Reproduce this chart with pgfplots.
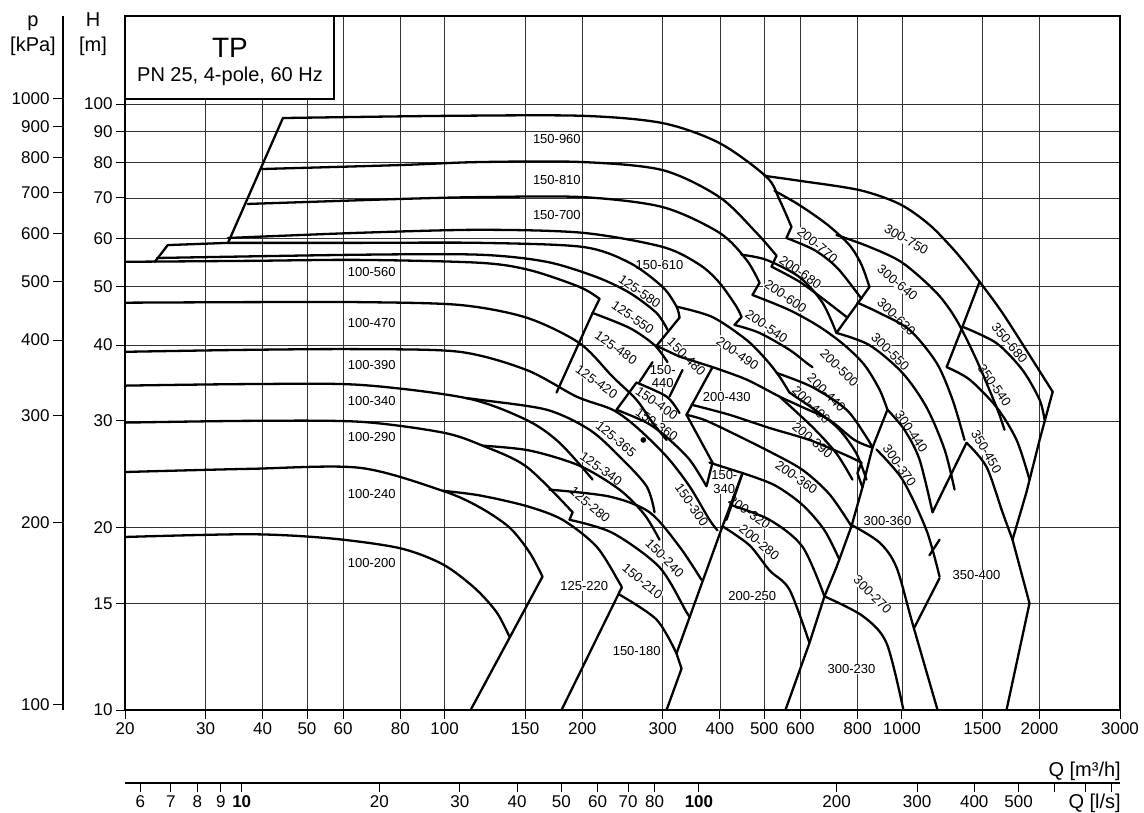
\documentclass[border=0pt]{standalone}
\usepackage{fontspec}
\setmainfont{Liberation Sans}
\usepackage{pgfplots}
\pgfplotsset{compat=1.18}
\begin{document}
\begin{tikzpicture}[x=1pt,y=1pt]
\pgfplotsset{
  curve/.style={black, line width=2.3pt, line join=round, line cap=round, mark=none, smooth, tension=0.5},
  edge/.style={black, line width=2.3pt, line join=round, line cap=round, mark=none},
}
\tikzset{lbl/.style={font=\fontsize{13}{13.5}\selectfont, fill=white, inner sep=0.5pt, align=center}}
\begin{axis}[
  at={(0,0)}, anchor=south west,
  scale only axis, width=995pt, height=694pt,
  xmode=log, ymode=log,
  xmin=20, xmax=3000, ymin=10, ymax=139.7,
  xtick={20,30,40,50,60,80,100,150,200,300,400,500,600,800,1000,1500,2000,3000},
  xticklabels={20,30,40,50,60,80,100,150,200,300,400,500,600,800,1000,1500,2000,3000},
  ytick={10,15,20,30,40,50,60,70,80,90,100},
  yticklabels={10,15,20,30,40,50,60,70,80,90,100},
  minor xtick={}, minor ytick={},
  grid=major,
  major grid style={black!80, line width=0.7pt},
  tick align=outside, tick pos=left,
  major tick length=9pt,
  tick style={black, line width=0.9pt},
  axis line style={black, line width=1.4pt},
  tick label style={font=\fontsize{17}{17}\selectfont},
  /pgf/number format/assume math mode=true,
]
% ---- labels (white background, under curves)
\node[lbl] at (axis cs:176,87.4) {150-960};
\node[lbl] at (axis cs:176,74.9) {150-810};
\node[lbl] at (axis cs:176,65.7) {150-700};
\node[lbl] at (axis cs:295,54.3) {150-610};
\node[lbl] at (axis cs:69.3,52.8) {100-560};
\node[lbl] at (axis cs:69.3,43.5) {100-470};
\node[lbl] at (axis cs:69.3,37.1) {100-390};
\node[lbl] at (axis cs:69.3,32.4) {100-340};
\node[lbl] at (axis cs:69.3,28.2) {100-290};
\node[lbl] at (axis cs:69.3,22.7) {100-240};
\node[lbl] at (axis cs:69.3,17.5) {100-200};
\node[lbl,rotate=-35] at (axis cs:267,49.1) {125-580};
\node[lbl,rotate=-35] at (axis cs:258,44.4) {125-550};
\node[lbl,rotate=-35] at (axis cs:237,39.6) {125-480};
\node[lbl,rotate=-35] at (axis cs:215,34.8) {125-420};
\node[lbl,rotate=-45] at (axis cs:338,38.3) {150-480};
\node[lbl] at (axis cs:300,35.5) {150-\\440};
\node[lbl,rotate=-35] at (axis cs:437,38.8) {200-490};
\node[lbl] at (axis cs:414,32.9) {200-430};
\node[lbl,rotate=-35] at (axis cs:291,32.1) {150-400};
\node[lbl,rotate=-35] at (axis cs:291,29.6) {150-360};
\node[lbl,rotate=-40] at (axis cs:237,28.0) {125-365};
\node[lbl,rotate=-35] at (axis cs:220,25.0) {125-340};
\node[lbl,rotate=-40] at (axis cs:208,21.8) {125-280};
\node[lbl,rotate=-55] at (axis cs:347,21.8) {150-300};
\node[lbl] at (axis cs:409,23.8) {150-\\340};
\node[lbl,rotate=-45] at (axis cs:303,17.8) {150-240};
\node[lbl,rotate=-40] at (axis cs:271,16.3) {150-210};
\node[lbl] at (axis cs:202,16.0) {125-220};
\node[lbl] at (axis cs:263,12.5) {150-180};
\node[lbl] at (axis cs:471,15.4) {200-250};
\node[lbl,rotate=-40] at (axis cs:488,18.9) {200-280};
\node[lbl,rotate=-35] at (axis cs:464,21.2) {200-320};
\node[lbl,rotate=-35] at (axis cs:588,24.2) {200-360};
\node[lbl,rotate=-40] at (axis cs:638,27.9) {200-390};
\node[lbl,rotate=-45] at (axis cs:634,31.9) {200-400};
\node[lbl,rotate=-45] at (axis cs:684,33.4) {200-440};
\node[lbl,rotate=-45] at (axis cs:730,36.7) {200-500};
\node[lbl,rotate=-35] at (axis cs:506,42.9) {200-540};
\node[lbl,rotate=-35] at (axis cs:557,48.1) {200-600};
\node[lbl,rotate=-35] at (axis cs:600,52.8) {200-680};
\node[lbl,rotate=-40] at (axis cs:654,58.5) {200-770};
\node[lbl,rotate=-30] at (axis cs:1023,59.7) {300-750};
\node[lbl,rotate=-40] at (axis cs:978,50.7) {300-640};
\node[lbl,rotate=-45] at (axis cs:973,44.5) {300-630};
\node[lbl,rotate=-45] at (axis cs:944,39.0) {300-550};
\node[lbl,rotate=-56] at (axis cs:1049,28.8) {300-440};
\node[lbl,rotate=-55] at (axis cs:988,25.3) {300-370};
\node[lbl] at (axis cs:930,20.5) {300-360};
\node[lbl,rotate=-45] at (axis cs:863,15.5) {300-270};
\node[lbl] at (axis cs:776,11.7) {300-230};
\node[lbl,rotate=-50] at (axis cs:1720,40.3) {350-680};
\node[lbl,rotate=-55] at (axis cs:1595,34.3) {350-540};
\node[lbl,rotate=-60] at (axis cs:1531,26.7) {350-450};
\node[lbl] at (axis cs:1457,16.7) {350-400};
% ---- family 100
\addplot[curve] coordinates {(20,54.9)(37.5,55.1)(65.2,55.3)(119.3,54.7)(153.4,53.2)(197.3,49.9)(218.2,47.7)};
\addplot[curve] coordinates {(20,47.0)(37.5,47.1)(65.2,47.1)(107.8,46.6)(151.1,44.4)(197.3,40.3)(232.9,35.5)(262.8,32.5)(284.9,29.8)(305.8,27.9)};
\addplot[curve] coordinates {(20,39.0)(37.5,39.3)(65.2,39.4)(107.8,39.0)(151.1,36.4)(194.3,32.9)(232.9,31.3)(262.8,29.3)(305.8,26.2)(343.2,23.4)(379.6,20.6)(395.2,19.8)};
\addplot[curve] coordinates {(20,34.3)(37.5,34.5)(65.2,34.4)(111.7,32.7)(151.1,30.1)(178.4,27.6)(210.7,24.0)};
\addplot[curve] coordinates {(20,29.8)(37.5,30.0)(65.2,29.9)(99.0,28.7)(121.1,27.3)(151.1,25.2)(190.5,21.2)};
\addplot[edge] coordinates {(190.5,21.2)(187.6,20.6)};
\addplot[curve] coordinates {(20,24.7)(37.5,25.0)(65.2,25.1)(99.0,23.0)(119.3,21.6)(138.7,20.0)(153.4,18.2)(163.7,16.6)};
\addplot[edge] coordinates {(163.7,16.6)(114.0,10)};
\addplot[curve] coordinates {(20,19.3)(37.5,19.5)(56.1,19.2)(79.7,18.5)(99.0,17.4)(116.3,15.9)(129.9,14.5)(138.7,13.2)};
% ---- family 125 lower / 150 lower
\addplot[curve] coordinates {(111.7,32.7)(119.3,32.5)(167.1,31.3)(207.5,29.0)(241.3,26.2)(276.5,23.4)(287.8,21.2)};
\addplot[curve] coordinates {(121.1,27.3)(153.4,26.8)(197.3,25.3)(241.3,23.1)(273.7,21.0)(295.1,19.1)};
\addplot[curve] coordinates {(99.0,23.0)(119.3,22.6)(151.1,21.7)(181.1,20.6)(215.0,18.6)(241.3,16.2)(243.7,15.9)};
\addplot[edge] coordinates {(243.7,15.9)(180.2,10)};
\addplot[curve] coordinates {(187.6,20.6)(232.9,19.6)(295.1,17.2)(338.1,14.5)(343.2,14.3)};
\addplot[curve] coordinates {(241.3,15.5)(290.7,14.1)(321.5,12.4)};
\addplot[curve] coordinates {(169.6,23.1)(229.5,22.5)(280.6,21.2)(326.4,18.6)(364.6,16.4)};
\addplot[edge] coordinates {(448.3,24.6)(405.3,20.1)(321.5,12.4)(329.7,11.7)(305.8,10)};
% ---- family 125 upper / 150 upper
\addplot[edge] coordinates {(218.2,47.7)(210.7,45.2)(175.7,33.4)};
\addplot[curve] coordinates {(33.6,60.1)(65.2,61.3)(119.3,62.0)(200.3,61.3)(299.7,58.1)(361.0,54.3)(399.2,50.7)(434.8,46.3)(446.0,44.5)};
\addplot[edge] coordinates {(446.0,44.5)(430.5,43.2)};
\addplot[edge] coordinates {(23.25,54.9)(24.8,58.5)(33.6,59.0)};
\addplot[curve] coordinates {(33.6,59.0)(65.2,59.0)(119.3,59.0)(200.3,58.1)(253.8,54.7)(299.7,49.9)(321.5,46.3)(326.4,44.4)};
\addplot[edge] coordinates {(326.4,44.4)(290.7,39.9)};
\addplot[curve] coordinates {(23.5,55.7)(65.2,56.4)(119.3,56.4)(167.1,54.9)(215.0,51.8)(253.8,48.8)(290.7,45.2)(307.3,42.4)};
\addplot[edge] coordinates {(33.6,59.0)(44.3,94.8)};
\addplot[curve] coordinates {(44.3,94.8)(102.5,95.6)(200.3,95.6)(299.7,93.0)(399.2,86.2)(505.8,75.8)(540.0,69.5)(573.5,62.7)};
\addplot[edge] coordinates {(573.5,62.7)(559.3,60.1)};
\addplot[curve] coordinates {(39.6,78.1)(79.7,79.3)(119.3,80.2)(200.3,80.2)(299.7,77.8)(399.2,70.2)(480.9,61.3)(531.9,56.2)};
\addplot[edge] coordinates {(531.9,56.2)(518.7,53.9)};
\addplot[curve] coordinates {(37.1,68.4)(79.7,69.7)(119.3,70.2)(200.3,70.2)(299.7,67.6)(399.2,61.3)(457.4,55.3)(488.3,50.7)};
\addplot[edge] coordinates {(488.3,50.7)(471.3,48.4)};
\addplot[curve] coordinates {(210.7,45.2)(253.8,42.7)(287.8,40.0)(307.3,37.5)};
\addplot[edge] coordinates {(290.7,39.9)(326.4,38.3)(385.4,36.8)(338.1,30.7)(385.4,25.6)(373.9,23.4)};
\addplot[edge] coordinates {(284.9,37.5)(266.9,34.8)};
\addplot[edge] coordinates {(331.4,36.4)(310.4,32.9)};
\addplot[edge] coordinates {(237.7,31.3)(262.8,34.7)};
\addplot[curve] coordinates {(262.8,34.7)(305.8,32.9)(326.4,30.9)};
\addplot[curve] coordinates {(237.7,31.3)(276.5,29.8)(305.8,28.2)(343.2,25.9)(373.9,23.4)};
\addplot[edge] coordinates {(379.6,25.6)(448.3,24.6)(413.5,20.6)};
\addplot[only marks, mark=*, mark size=2.6pt, black] coordinates {(272,27.9)};
% ---- family 200
\addplot[curve] coordinates {(526.6,71.9)(597.2,68.1)(687.6,63.2)(768.1,58.5)(816.0,54.3)(849.5,49.9)};
\addplot[edge] coordinates {(849.5,49.9)(719.4,41.9)};
\addplot[curve] coordinates {(446.0,56.4)(505.8,55.3)(597.2,51.8)(670.5,47.0)(719.4,41.9)};
\addplot[curve] coordinates {(559.3,60.1)(644.0,57.4)(723.1,53.6)(816.0,47.7)};
\addplot[curve] coordinates {(518.7,53.9)(597.2,50.9)(677.3,47.5)(760.4,44.4)};
\addplot[curve] coordinates {(430.5,43.2)(488.3,41.9)(567.8,39.3)(618.6,37.4)(637.6,36.8)};
\addplot[curve] coordinates {(471.3,48.4)(567.8,45.7)(660.4,42.9)(749.0,40.0)(828.4,37.1)(893.4,33.8)(930.1,31.3)};
\addplot[edge] coordinates {(930.1,31.3)(862.5,27.1)};
\addplot[curve] coordinates {(321.5,46.3)(385.4,44.5)(457.4,40.8)(505.8,37.8)(540.0,35.5)(567.8,33.4)};
\addplot[curve] coordinates {(385.4,36.8)(457.4,35.1)(540.0,32.9)(606.3,31.6)(694.5,30.1)(787.7,27.9)(862.5,27.1)};
\addplot[curve] coordinates {(531.9,36.0)(637.6,34.1)(756.6,31.3)(836.8,28.2)(862.5,27.1)};
\addplot[curve] coordinates {(567.8,33.4)(660.4,30.9)(730.4,29.0)(795.7,26.5)(836.8,24.0)};
\addplot[curve] coordinates {(540.0,32.9)(637.6,29.3)(719.4,26.5)(779.8,24.0)};
\addplot[edge] coordinates {(816.0,25.6)(799.7,24.6)(820.1,23.3)};
\addplot[curve] coordinates {(346.7,31.9)(419.8,30.7)(513.5,29.2)(628.0,27.9)(749.0,26.4)(816.0,25.6)};
\addplot[curve] coordinates {(338.1,30.7)(370.2,30.1)(419.8,28.8)(513.5,26.7)(606.3,24.9)(694.5,22.7)(775.9,20.1)};
\addplot[curve] coordinates {(448.3,24.6)(526.6,23.5)(606.3,21.8)(677.3,19.8)(730.4,17.7)};
\addplot[curve] coordinates {(421.9,21.8)(513.5,20.6)(606.3,18.6)(677.3,15.4)};
\addplot[curve] coordinates {(405.3,20.1)(464.3,18.7)(513.5,17.0)(567.8,15.8)(628.0,12.9)};
\addplot[edge] coordinates {(862.5,27.1)(820.1,23.3)(775.9,20.1)(719.4,17.2)(677.3,15.4)(628.0,12.9)(556.5,10)};
% ---- family 300 / 350
\addplot[curve] coordinates {(500.7,76.1)(597.2,74.7)(807.8,72.1)(988.1,68.4)(1149,63.2)(1317,56.8)(1479,50.9)(1660,45.2)(1932,37.8)(2137,33.5)};
\addplot[edge] coordinates {(2137,33.5)(2001,27.9)(1874,22.9)(1746,19.1)(1902,15.0)(1694,10)};
\addplot[edge] coordinates {(1479,50.9)(1357,42.9)(1253,36.8)};
\addplot[curve] coordinates {(1357,42.9)(1611,40.3)(1836,36.4)(2001,32.5)(2052,30.1)};
\addplot[curve] coordinates {(1253,36.8)(1406,35.1)(1611,31.6)(1782,27.9)(1902,24.0)};
\addplot[edge] coordinates {(1385,27.6)(1167,21.2)};
\addplot[curve] coordinates {(1385,27.6)(1531,25.2)(1660,21.2)(1746,19.1)};
\addplot[curve] coordinates {(719.4,60.8)(849.5,58.1)(1003,54.7)(1191,48.8)(1317,44.0)(1457,37.8)(1611,31.6)(1677,29.0)};
\addplot[curve] coordinates {(799.7,47.0)(893.4,45.2)(1039,42.4)(1191,37.4)(1291,32.5)(1371,27.9)};
\addplot[curve] coordinates {(719.4,41.9)(849.5,40.0)(1003,36.0)(1132,31.6)(1240,26.9)(1304,23.1)};
\addplot[curve] coordinates {(930.1,31.3)(1013,29.0)(1093,25.9)(1167,21.2)};
\addplot[curve] coordinates {(880.0,26.9)(1003,24.0)(1132,19.8)(1209,16.6)};
\addplot[edge] coordinates {(1209,19.1)(1149,18.0)};
\addplot[edge] coordinates {(1209,16.5)(1066,13.7)};
\addplot[curve] coordinates {(775.9,20.2)(893.4,18.9)(973.2,17.2)(1055,13.9)(1197,10)};
\addplot[curve] coordinates {(677.3,15.4)(820.1,14.3)(925.5,12.9)(1008,10)};
\end{axis}
% ---- pressure axis
\begin{axis}[
  at={(-62pt,0)}, anchor=south west,
  scale only axis, width=1pt, height=694pt,
  ymode=log, ymin=98.1, ymax=1370.5, xmin=0, xmax=1,
  axis y line*=left, axis x line=none,
  ytick={100,200,300,400,500,600,700,800,900,1000},
  yticklabels={100,200,300,400,500,600,700,800,900,1000},
  minor ytick={},
  tick align=outside, major tick length=10pt,
  tick style={black, line width=1pt},
  axis line style={black, line width=1.4pt},
  tick label style={font=\fontsize{17}{17}\selectfont},
]
\addplot[draw=none] coordinates {(0,200)};
\end{axis}
% ---- l/s axis
\begin{axis}[
  at={(0,-73pt)}, anchor=south west,
  scale only axis, width=995pt, height=1pt,
  xmode=log, xmin=5.5556, xmax=833.33, ymin=0, ymax=1,
  axis x line*=bottom, axis y line=none,
  xtick={6,7,8,9,10,20,30,40,50,60,70,80,100,200,300,400,500,600,700,800},
  xticklabels={6,7,8,9,\textbf{10},20,30,40,50,60,70,80,\textbf{100},200,300,400,500,,,},
  minor xtick={},
  tick align=outside, major tick length=9pt,
  tick style={black, line width=1pt},
  axis line style={black, line width=1.4pt},
  tick label style={font=\fontsize{17}{17}\selectfont},
]
\addplot[draw=none] coordinates {(10,0.5)};
\end{axis}
% ---- texts and box
\draw[line width=1.3pt, fill=white] (0,694) rectangle (209,611);
\node[anchor=base, font=\fontsize{28}{28}\selectfont] at (105,652) {TP};
\node[anchor=base, font=\fontsize{20}{20}\selectfont] at (105,628) {PN 25, 4-pole, 60 Hz};
\node[anchor=base, font=\fontsize{20}{20}\selectfont] at (-92,683) {p};
\node[anchor=base, font=\fontsize{20}{20}\selectfont] at (-92,658) {[kPa]};
\node[anchor=base, font=\fontsize{20}{20}\selectfont] at (-32,683) {H};
\node[anchor=base, font=\fontsize{20}{20}\selectfont] at (-32,658) {[m]};
\node[anchor=base east, font=\fontsize{20}{20}\selectfont, inner sep=0pt] at (996,-66) {Q [m³/h]};
\node[anchor=base east, font=\fontsize{20}{20}\selectfont, inner sep=0pt] at (996,-98) {Q [l/s]};
\pgfresetboundingbox
\useasboundingbox (-125,-102) rectangle (1019,710);
\end{tikzpicture}
\end{document}
